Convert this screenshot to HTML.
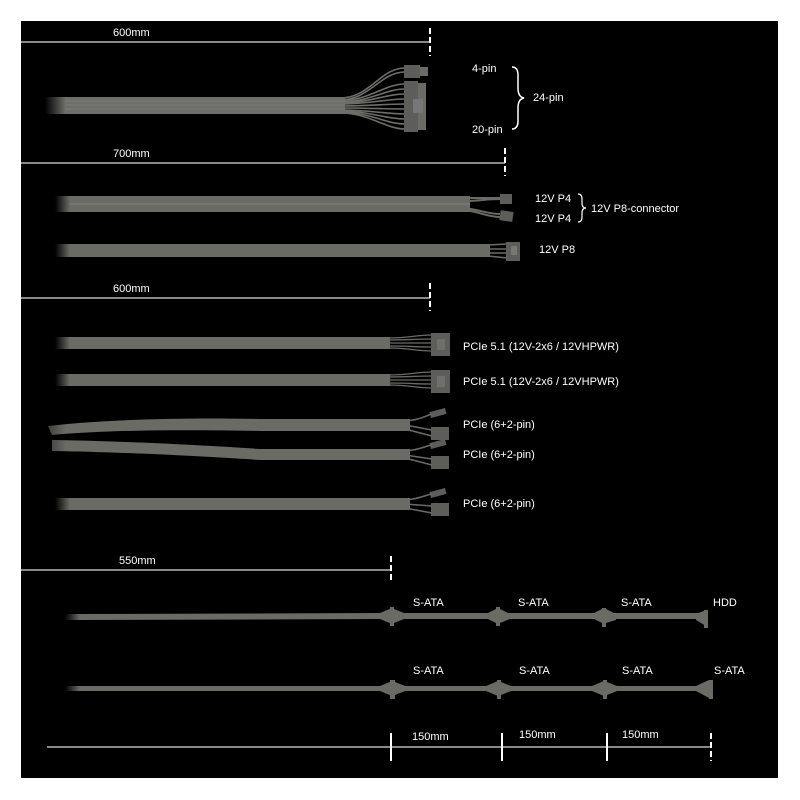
<!DOCTYPE html>
<html><head><meta charset="utf-8"><style>
html,body{margin:0;padding:0;background:#fff;}
svg{display:block;}
text{font-family:"Liberation Sans",sans-serif;fill:#fff;font-size:11px;}
</style></head><body>
<svg width="800" height="800" viewBox="0 0 800 800">
<defs>
<linearGradient id="fadeL" x1="0" x2="1" y1="0" y2="0">
<stop offset="0" stop-color="#6b6b66" stop-opacity="0"/><stop offset="1" stop-color="#6b6b66" stop-opacity="1"/>
</linearGradient>
<linearGradient id="blackFade" x1="0" x2="1" y1="0" y2="0">
<stop offset="0" stop-color="#000" stop-opacity="1"/><stop offset="1" stop-color="#000" stop-opacity="0"/>
</linearGradient>
</defs>
<rect x="0" y="0" width="800" height="800" fill="#fff"/>
<rect x="21" y="21" width="757" height="757" fill="#000"/>
<g stroke="#8a8a85" stroke-width="2" fill="none">
<line x1="21" y1="42" x2="430" y2="42"/>
<line x1="21" y1="163" x2="505" y2="163"/>
<line x1="21" y1="298" x2="430" y2="298"/>
<line x1="21" y1="570" x2="391" y2="570"/>
<line x1="47" y1="747" x2="710" y2="747"/>
</g>
<g stroke="#fff" stroke-width="2" stroke-dasharray="6,3">
<line x1="430" y1="28" x2="430" y2="56"/>
<line x1="505" y1="148" x2="505" y2="176"/>
<line x1="430" y1="283" x2="430" y2="311"/>
<line x1="391" y1="556" x2="391" y2="583"/>
<line x1="711" y1="733" x2="711" y2="761"/>
</g>
<g stroke="#fff" stroke-width="2">
<line x1="391" y1="733" x2="391" y2="761"/>
<line x1="502" y1="733" x2="502" y2="761"/>
<line x1="607" y1="733" x2="607" y2="761"/>
</g>
<text x="113" y="36" font-size="12">600mm</text>
<text x="113" y="157" font-size="12">700mm</text>
<text x="113" y="292" font-size="12">600mm</text>
<text x="119" y="564" font-size="12">550mm</text>
<text x="412" y="740" font-size="12">150mm</text>
<text x="519" y="738" font-size="12">150mm</text>
<text x="622" y="738" font-size="12">150mm</text>

<!-- 24 pin cable -->
<rect x="45" y="97" width="20" height="17" fill="url(#fadeL)"/>
<rect x="65" y="97" width="280" height="17" fill="#6e6e69"/>
<g stroke="#6e6e69" stroke-width="1.6" fill="none">
<path d="M340 98 C370 98,380 68,405 68"/><path d="M340 100 C370 100,380 72,405 72"/>
<path d="M340 101 C370 100,385 84,405 84"/><path d="M340 102 C370 102,385 89,405 89"/>
<path d="M340 103 C370 103,385 94,405 94"/><path d="M340 104 C370 104,385 99,405 99"/>
<path d="M340 106 C370 106,385 104,405 104"/><path d="M340 108 C370 108,385 109,405 109"/>
<path d="M340 110 C370 110,385 114,405 114"/><path d="M340 111 C370 111,385 119,405 119"/>
<path d="M340 112 C370 112,385 124,405 124"/><path d="M340 113 C370 113,385 129,405 129"/>
</g>
<g stroke="#888" stroke-width="0.6">
<line x1="65" y1="101" x2="345" y2="101"/><line x1="65" y1="105" x2="345" y2="105"/><line x1="65" y1="109" x2="345" y2="109"/>
</g>
<rect x="404" y="65" width="16" height="13" fill="#5d5d59"/><rect x="420" y="67" width="8" height="9" fill="#6b6b66"/>
<rect x="404" y="81" width="14" height="51" fill="#5d5d59"/><rect x="418" y="83" width="8" height="47" fill="#6b6b66"/>
<rect x="413" y="99" width="10" height="14" fill="#777"/>
<text x="472" y="72">4-pin</text>
<text x="472" y="133">20-pin</text>
<text x="533" y="101">24-pin</text>
<path d="M512 67 q6 0 6 8 v13 q0 9 6 10 q-6 1-6 10 v13 q0 8-6 8" stroke="#fff" stroke-width="1.5" fill="none"/>

<!-- 12V P4 -->
<rect x="55" y="196" width="15" height="16" fill="url(#fadeL)"/>
<rect x="70" y="196" width="400" height="16" fill="#6b6b66"/>
<line x1="70" y1="204" x2="470" y2="204" stroke="#888" stroke-width="0.7"/>
<g stroke="#6b6b66" stroke-width="2" fill="none">
<path d="M465 198 C480 198,485 198,500 198"/><path d="M465 201 C480 201,485 199,500 199"/>
<path d="M465 208 C480 210,488 214,500 214"/><path d="M465 210 C480 212,488 217,500 217"/>
</g>
<rect x="500" y="194" width="12" height="10" fill="#5d5d59"/><rect x="500" y="211" width="13" height="10" fill="#5d5d59" transform="rotate(8 506 216)"/>
<text x="535" y="202">12V P4</text><text x="535" y="222">12V P4</text>
<path d="M578 194 q4 0 4 5 v4 q0 5 4 5 q-4 0-4 5 v4 q0 5-4 5" stroke="#fff" stroke-width="1.2" fill="none"/>
<text x="591" y="212">12V P8-connector</text>

<!-- 12V P8 -->
<rect x="55" y="244" width="15" height="13" fill="url(#fadeL)"/>
<rect x="70" y="244" width="420" height="13" fill="#6b6b66"/>
<g stroke="#6b6b66" stroke-width="1.5"><line x1="488" y1="245" x2="507" y2="244"/><line x1="488" y1="249" x2="507" y2="249"/><line x1="488" y1="253" x2="507" y2="253"/><line x1="488" y1="256" x2="507" y2="258"/></g>
<rect x="506" y="242" width="14" height="19" fill="#5d5d59"/><rect x="511" y="246" width="6" height="9" fill="#777"/>
<text x="539" y="253">12V P8</text>

<!-- PCIe 5.1 -->
<rect x="55" y="337" width="15" height="12" fill="url(#fadeL)"/>
<rect x="70" y="337" width="320" height="12" fill="#6b6b66"/>
<g stroke="#6b6b66" stroke-width="1.3" fill="none"><path d="M388 338 C410 338,415 335,432 335"/><path d="M388 340 C410 340,415 339,432 339"/><path d="M388 343 C410 343,415 343,432 343"/><path d="M388 346 C410 346,415 347,432 347"/><path d="M388 348 C410 348,415 351,432 351"/></g>
<rect x="431" y="333" width="19" height="23" fill="#5d5d59"/><rect x="437" y="339" width="8" height="11" fill="#6f6f6b"/>
<text x="463" y="350">PCIe 5.1 (12V-2x6 / 12VHPWR)</text>
<rect x="55" y="374" width="15" height="12" fill="url(#fadeL)"/>
<rect x="70" y="374" width="320" height="12" fill="#6b6b66"/>
<g stroke="#6b6b66" stroke-width="1.3" fill="none"><path d="M388 375 C410 375,415 372,432 372"/><path d="M388 377 C410 377,415 376,432 376"/><path d="M388 380 C410 380,415 380,432 380"/><path d="M388 383 C410 383,415 384,432 384"/><path d="M388 385 C410 385,415 388,432 388"/></g>
<rect x="431" y="370" width="19" height="23" fill="#5d5d59"/><rect x="437" y="376" width="8" height="11" fill="#6f6f6b"/>
<text x="463" y="385">PCIe 5.1 (12V-2x6 / 12VHPWR)</text>

<!-- PCIe 6+2 -->
<path d="M48 426 C120 418,200 418,260 419 L410 419 L410 431 L260 431 C200 430,120 429,52 435 Z" fill="#6b6b66"/>
<path d="M52 440 C120 441,200 445,260 449 L410 449 L410 460 L260 460 C200 456,120 452,52 451 Z" fill="#6b6b66"/>
<rect x="21" y="415" width="45" height="42" fill="url(#blackFade)"/>
<rect x="55" y="498" width="15" height="12" fill="url(#fadeL)"/>
<rect x="70" y="498" width="340" height="12" fill="#6b6b66"/>
<g fill="#5d5d59">
<rect x="431" y="427" width="18" height="13"/><rect x="430" y="410" width="16" height="6" transform="rotate(-15 438 413)"/>
<rect x="431" y="456" width="18" height="13"/><rect x="430" y="441" width="16" height="6" transform="rotate(-15 438 444)"/>
<rect x="431" y="503" width="18" height="13"/><rect x="430" y="490" width="16" height="6" transform="rotate(-15 438 493)"/>
</g>
<g stroke="#6b6b66" stroke-width="1.5" fill="none">
<path d="M405 421 C420 420,425 416,432 414"/><path d="M405 425 L432 430"/><path d="M405 429 L432 436"/>
<path d="M405 451 C420 450,425 446,432 445"/><path d="M405 455 L432 459"/><path d="M405 458 L432 465"/>
<path d="M405 500 C420 499,425 495,432 494"/><path d="M405 504 L432 506"/><path d="M405 508 L432 513"/>
</g>
<text x="463" y="428">PCIe (6+2-pin)</text>
<text x="463" y="458">PCIe (6+2-pin)</text>
<text x="463" y="507">PCIe (6+2-pin)</text>

<!-- SATA 1 -->
<rect x="65" y="614" width="15" height="6" fill="url(#fadeL)"/>
<path d="M80 614 L392 613 L392 619 L80 620 Z" fill="#6b6b66"/>
<rect x="392" y="613" width="312" height="6" fill="#6b6b66"/>
<g fill="#6b6b66">
<path d="M380 613 L392 608 L392 624 L380 619 Z"/><rect x="390" y="607" width="4" height="19"/><path d="M394 609 L404 613 L404 619 L394 623Z"/>
<path d="M488 613 L498 608 L498 624 L488 619 Z"/><rect x="496" y="607" width="4" height="19"/><path d="M500 609 L510 614 L510 619 L500 623Z"/>
<path d="M594 613 L604 608 L604 624 L594 619 Z"/><rect x="602" y="608" width="4" height="19"/><path d="M606 609 L616 614 L616 620 L606 623Z"/>
<path d="M696 614 L706 610 L706 626 L696 620 Z"/><rect x="704" y="610" width="4" height="18"/>
</g>
<text x="413" y="606">S-ATA</text><text x="518" y="606">S-ATA</text><text x="621" y="606">S-ATA</text><text x="713" y="606">HDD</text>

<!-- SATA 2 -->
<rect x="65" y="686" width="15" height="5" fill="url(#fadeL)"/>
<rect x="80" y="686" width="630" height="5" fill="#6b6b66"/>
<g fill="#6b6b66">
<path d="M380 686 L392 681 L392 696 L380 691 Z"/><rect x="390" y="680" width="5" height="19"/><path d="M395 682 L405 686 L405 691 L395 695Z"/>
<path d="M486 686 L498 681 L498 696 L486 691 Z"/><rect x="497" y="680" width="4" height="19"/><path d="M501 682 L511 686 L511 691 L501 695Z"/>
<path d="M592 686 L604 681 L604 696 L592 691 Z"/><rect x="603" y="680" width="4" height="19"/><path d="M607 682 L617 686 L617 691 L607 695Z"/>
<path d="M696 686 L709 680 L709 698 L696 691 Z"/><rect x="709" y="680" width="4" height="19"/>
</g>
<text x="413" y="674">S-ATA</text><text x="519" y="674">S-ATA</text><text x="622" y="674">S-ATA</text><text x="714" y="674">S-ATA</text>
</svg>
</body></html>
